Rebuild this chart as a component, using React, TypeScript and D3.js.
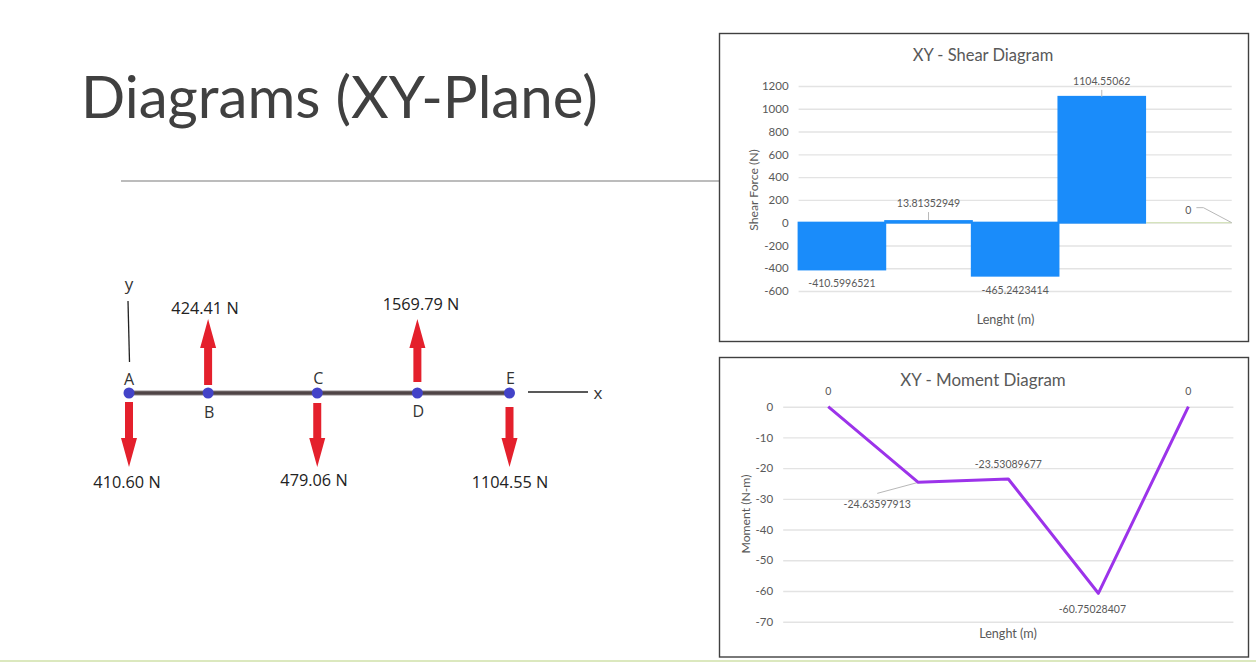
import { useRef, useEffect } from "react"
import * as d3 from "d3"

const shearCategories = ["AB", "BC", "CD", "DE", "E"]
const shearValues = [-410.5996521, 13.81352949, -465.2423414, 1104.55062, 0]
const shearTicks = [-600, -400, -200, 0, 200, 400, 600, 800, 1000, 1200]

const momentCategories = ["A", "B", "C", "D", "E"]
const momentValues = [0, -24.63597913, -23.53089677, -60.75028407, 0]
const momentTicks = [-70, -60, -50, -40, -30, -20, -10, 0]

const nodeNames = ["A", "B", "C", "D", "E"]
const nodeStations = [0, 79, 188, 288, 380]
const nodeForces = [-410.6, 424.41, -479.06, 1569.79, -1104.55]

const W = 1256
const H = 662
const FONT = "Lato, 'Open Sans', sans-serif"
const LABEL_FONT = "'Open Sans', 'Noto Sans', sans-serif"
const TEXT = "#595959"
const GRID = "#e3e3e3"

export default function App() {
  const svgRef = useRef<SVGSVGElement>(null)

  useEffect(() => {
    if (!svgRef.current) return
    const svg = d3.select(svgRef.current)
    svg.selectAll("*").remove()

    svg.append("rect").attr("width", W).attr("height", H).attr("fill", "#fff")

    // Slide furniture
    svg.append("text")
      .attr("x", 81)
      .attr("y", 118)
      .attr("font-family", FONT)
      .attr("font-size", 58.2)
      .attr("fill", "#404040")
      .text("Diagrams (XY-Plane)")
    svg.append("line")
      .attr("x1", 121).attr("x2", 719).attr("y1", 181).attr("y2", 181)
      .attr("stroke", "#a6a6a6").attr("stroke-width", 1.5)
    svg.append("line")
      .attr("x1", 0).attr("x2", W).attr("y1", 661).attr("y2", 661)
      .attr("stroke", "#cfe0a8").attr("stroke-width", 1.5)

    const frame = (y: number, h: number) =>
      svg.append("rect")
        .attr("x", 719.5).attr("y", y).attr("width", 529).attr("height", h)
        .attr("fill", "#fff").attr("stroke", "#404040").attr("stroke-width", 1.4)
    frame(33.5, 308)
    frame(357.5, 299.5)

    const addText = (x: number, y: number, s: string, size = 10.5, fill = TEXT, font = FONT) =>
      svg.append("text")
        .attr("x", x).attr("y", y)
        .attr("text-anchor", "middle")
        .attr("dominant-baseline", "central")
        .attr("font-family", font)
        .attr("font-size", size)
        .attr("fill", fill)
        .text(s)

    const leader = (pts: [number, number][]) =>
      svg.append("path")
        .attr("d", d3.line()(pts))
        .attr("fill", "none")
        .attr("stroke", "#b8b8b8")
        .attr("stroke-width", 1)

    const yAxisGroup = (scale: d3.ScaleLinear<number, number>, ticks: number[], left: number, right: number) => {
      const g = svg.append("g")
        .attr("transform", `translate(${left},0)`)
        .call(d3.axisLeft(scale).tickValues(ticks).tickFormat((d) => String(d)).tickSize(-(right - left)).tickPadding(10))
      g.select(".domain").remove()
      g.selectAll(".tick line").attr("stroke", GRID).attr("stroke-width", 1.4)
      g.selectAll(".tick text")
        .attr("font-family", FONT)
        .attr("font-size", 11.5)
        .attr("fill", TEXT)
    }

    // Shear chart
    const sx = d3.scaleBand().domain(shearCategories).range([798.6, 1231.7]).padding(0)
    const sy = d3.scaleLinear().domain([-600, 1200]).range([291, 86])
    yAxisGroup(sy, shearTicks, sx.range()[0], sx.range()[1])

    addText(983, 55, "XY - Shear Diagram", 16.5)
    addText(1005.5, 319, "Lenght (m)", 12.6)
    addText(753, 190, "Shear Force (N)", 12.2).attr("transform", "rotate(-90 753 190)")

    svg.append("g")
      .selectAll("rect")
      .data(shearValues.filter((d) => d !== 0))
      .join("rect")
      .attr("x", (_, i) => sx(shearCategories[i]) || 0)
      .attr("width", sx.bandwidth())
      .attr("y", (d) => sy(Math.max(d, 0)))
      .attr("height", (d) => Math.abs(sy(d) - sy(0)))
      .attr("fill", "#1a8cfa")
      .attr("stroke", "#1a8cfa")
      .attr("stroke-width", 2)

    // a zero-height rect does not paint, so the empty last bar is a line
    svg.append("g")
      .selectAll("line")
      .data(shearCategories.filter((_, i) => shearValues[i] === 0))
      .join("line")
      .attr("x1", (d) => (sx(d) || 0) + 1)
      .attr("x2", (d) => (sx(d) || 0) + sx.bandwidth())
      .attr("y1", sy(0))
      .attr("y2", sy(0))
      .attr("stroke", "#d5e3bd")
      .attr("stroke-width", 1.4)

    const shearLabelAt = (i: number) => (sx(shearCategories[i]) || 0) + sx.bandwidth() / 2
    addText(shearLabelAt(0), sy(shearValues[0]) + 14, String(shearValues[0]))
    addText(shearLabelAt(1), sy(shearValues[1]) - 18, String(shearValues[1]))
    addText(shearLabelAt(2), sy(shearValues[2]) + 14, String(shearValues[2]))
    addText(shearLabelAt(3), sy(shearValues[3]) - 16, String(shearValues[3]))
    addText(shearLabelAt(4), sy(shearValues[4]) - 13, String(shearValues[4]))
    leader([[shearLabelAt(1), sy(shearValues[1]) - 9], [shearLabelAt(1), sy(shearValues[1]) - 1]])
    leader([[shearLabelAt(3), sy(shearValues[3]) - 7], [shearLabelAt(3), sy(shearValues[3])]])
    leader([[shearLabelAt(4) + 8, sy(0) - 15], [shearLabelAt(4) + 15, sy(0) - 15], [sx.range()[1], sy(0)]])

    // Moment chart
    const mx = d3.scalePoint().domain(momentCategories).range([783.2, 1233.4]).padding(0.5)
    const my = d3.scaleLinear().domain([-70, 0]).range([621.7, 406.7])
    yAxisGroup(my, momentTicks, mx.range()[0], mx.range()[1])

    addText(983, 379, "XY - Moment Diagram", 16.9)
    addText(1008, 633, "Lenght (m)", 12.6)
    addText(745, 514, "Moment (N-m)", 12.2).attr("transform", "rotate(-90 745 514)")

    const momentX = (i: number) => mx(momentCategories[i]) || 0
    leader([[momentX(1) - 41, my(momentValues[1]) + 11], [momentX(1), my(momentValues[1])]])

    svg.append("path")
      .attr("d", d3.line<number>().x((_, i) => momentX(i)).y((d) => my(d))(momentValues))
      .attr("fill", "none")
      .attr("stroke", "#9c33ea")
      .attr("stroke-width", 3)
      .attr("stroke-linejoin", "round")

    addText(momentX(0), my(0) - 16, String(momentValues[0]))
    addText(momentX(1) - 41, my(momentValues[1]) + 22, String(momentValues[1]))
    addText(momentX(2), my(momentValues[2]) - 15, String(momentValues[2]))
    addText(momentX(3) - 6, my(momentValues[3]) + 16, String(momentValues[3]))
    addText(momentX(4), my(0) - 16, String(momentValues[4]))

    // Free body diagram
    const bx = d3.scaleLinear().domain([0, 380]).range([129, 509.5])
    const beamY = 393

    svg.append("line")
      .attr("x1", bx(0)).attr("x2", bx(380)).attr("y1", beamY).attr("y2", beamY)
      .attr("stroke", "#b5aeb0").attr("stroke-width", 5.5)
    svg.append("line")
      .attr("x1", bx(0)).attr("x2", bx(380)).attr("y1", beamY).attr("y2", beamY)
      .attr("stroke", "#4f4446").attr("stroke-width", 3.5)

    const tailGaps = [9, 8, 10, 11, 14]
    const arrow = d3.line()

    svg.append("g")
      .selectAll("path")
      .data(nodeForces)
      .join("path")
      .attr("d", (d, i) => {
        const dir = d > 0 ? -1 : 1
        const x = bx(nodeStations[i])
        const tip = beamY + dir * 74
        const neck = tip - dir * 29
        const tail = beamY + dir * tailGaps[i]
        return arrow([
          [x - 4, tail],
          [x - 4, neck],
          [x - 8, neck],
          [x, tip],
          [x + 8, neck],
          [x + 4, neck],
          [x + 4, tail],
        ])
      })
      .attr("fill", "#e4202c")

    svg.append("g")
      .selectAll("circle")
      .data(nodeStations)
      .join("circle")
      .attr("cx", (d) => bx(d))
      .attr("cy", beamY)
      .attr("r", 5.5)
      .attr("fill", "#4343c8")

    const DARK = "#222"
    const nodeLabelOffsets = [-14, 19, -15, 18, -15]
    nodeNames.forEach((n, i) => {
      addText(bx(nodeStations[i]) + (i === 0 ? 0 : 1), beamY + nodeLabelOffsets[i], n, 16, "#333", LABEL_FONT)
    })

    const forceLabelSpots: [number, number][] = [
      [127, 482],
      [205, 308],
      [314, 480],
      [421, 304],
      [510, 482],
    ]
    nodeForces.forEach((f, i) => {
      addText(forceLabelSpots[i][0], forceLabelSpots[i][1], `${Math.abs(f).toFixed(2)} N`, 16.3, DARK, LABEL_FONT)
    })

    const drawAxisLine = (x1: number, y1: number, x2: number, y2: number) =>
      svg.append("line")
        .attr("x1", x1).attr("y1", y1).attr("x2", x2).attr("y2", y2)
        .attr("stroke", "#222").attr("stroke-width", 1.3)
    drawAxisLine(128, 301, 129.5, 362)
    drawAxisLine(528, 392, 588, 392)
    addText(129, 283, "y", 17, "#333", LABEL_FONT)
    addText(598, 392, "x", 17, "#333", LABEL_FONT)
  }, [])

  return (
    <svg
      ref={svgRef}
      width={W}
      height={H}
      style={{ position: "absolute", left: 0, top: 0, display: "block" }}
    />
  )
}
